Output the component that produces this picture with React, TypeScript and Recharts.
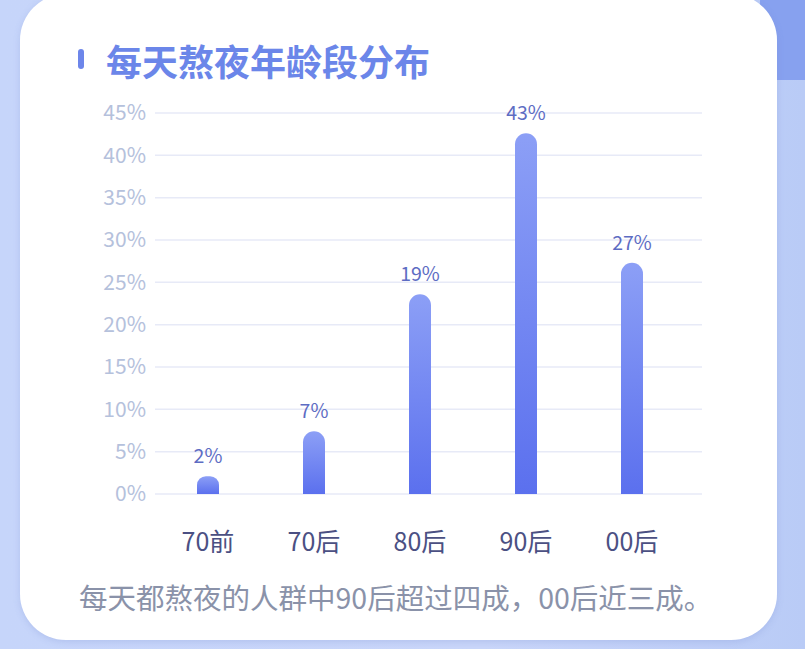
import React from 'react'
import { BarChart, Bar, XAxis, YAxis, CartesianGrid, LabelList } from 'recharts'

const ageGroups = ['70前', '70后', '80后', '90后', '00后']
const barValues = [2.1, 7.4, 23.6, 42.6, 27.3]
const valueLabels = ['2%', '7%', '19%', '43%', '27%']
const yTicks = [0, 5, 10, 15, 20, 25, 30, 35, 40, 45]

const data = ageGroups.map((name, i) => ({ name, value: barValues[i], label: valueLabels[i] }))

const FONT = '"Noto Sans CJK SC", "Noto Sans", sans-serif'

export default function App() {
  return (
    <div
      style={{
        position: 'fixed',
        left: 0,
        top: 0,
        width: 805,
        height: 649,
        overflow: 'hidden',
        background: 'linear-gradient(90deg, #c6d5fa 0%, #c9d6f9 60%, #b9cbf6 100%)',
        fontFamily: FONT,
      }}
    >
      <div
        style={{
          position: 'absolute',
          left: 760,
          top: -20,
          width: 80,
          height: 100,
          borderRadius: 16,
          background: '#87a1ef',
        }}
      />
      <div
        style={{
          position: 'absolute',
          left: 20,
          top: -6,
          width: 757,
          height: 646,
          borderRadius: 46,
          background: '#ffffff',
          boxShadow: '0 2px 6px rgba(120,140,210,0.25)',
        }}
      />
      <div
        style={{
          position: 'absolute',
          left: 78,
          top: 49,
          width: 6,
          height: 20,
          borderRadius: 3,
          background: '#6d86ea',
        }}
      />
      <div
        style={{
          position: 'absolute',
          left: 106,
          top: 36,
          fontSize: 36,
          fontWeight: 700,
          color: '#6b86e9',
          lineHeight: '48px',
          whiteSpace: 'nowrap',
        }}
      >
        每天熬夜年龄段分布
      </div>
      <div
        style={{
          position: 'absolute',
          left: 79,
          top: 579,
          fontSize: 28.5,
          color: '#8a92a9',
          lineHeight: '36px',
          whiteSpace: 'nowrap',
        }}
      >
        每天都熬夜的人群中90后超过四成，00后近三成。
      </div>
      <div style={{ position: 'absolute', left: 0, top: 0 }}>
        <BarChart
          width={805}
          height={649}
          data={data}
          margin={{ top: 113, right: 103, bottom: 95, left: 95 }}
        >
          <defs>
            <linearGradient id="barFill" x1="0" y1="0" x2="0" y2="1">
              <stop offset="0%" stopColor="#8c9ff6" />
              <stop offset="100%" stopColor="#5b70ee" />
            </linearGradient>
          </defs>
          <CartesianGrid vertical={false} stroke="#e7eaf7" strokeWidth={1.5} />
          <XAxis
            dataKey="name"
            axisLine={false}
            tickLine={false}
            tickSize={0}
            tickMargin={39}
            height={60}
            padding={{ left: 0, right: 17 }}
            tick={{ fill: '#4b5083', fontSize: 25, fontFamily: FONT }}
          />
          <YAxis
            domain={[0, 45]}
            ticks={yTicks}
            width={60}
            axisLine={false}
            tickLine={false}
            tickSize={0}
            tickMargin={9}
            tickFormatter={(v: number) => `${v}%`}
            tick={{ fill: '#b5c1dc', fontSize: 21, fontFamily: FONT }}
          />
          <Bar
            dataKey="value"
            barSize={22}
            fill="url(#barFill)"
            radius={[11, 11, 0, 0]}
            isAnimationActive={false}
          >
            <LabelList
              dataKey="label"
              position="top"
              offset={13}
              fill="#5d6cc3"
              fontSize={19.5}
              fontFamily={FONT}
            />
          </Bar>
        </BarChart>
      </div>
    </div>
  )
}
